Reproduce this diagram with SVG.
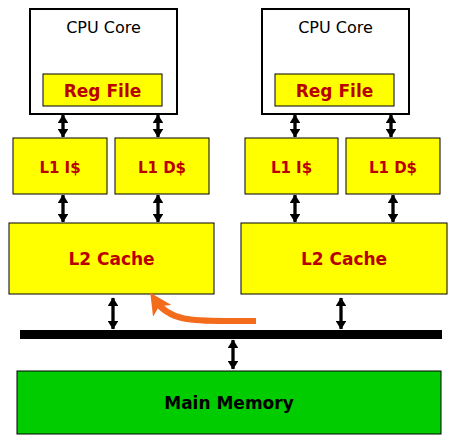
<svg xmlns="http://www.w3.org/2000/svg" width="459" height="444" viewBox="0 0 459 444">
<style>
.core{fill:#fff;stroke:#000;stroke-width:2}
.ybox{fill:#ffff00;stroke:#000;stroke-width:1}
.mem{fill:#00cc00;stroke:#000;stroke-width:1}
.t{font-family:"DejaVu Sans",Verdana,sans-serif;text-anchor:middle}
.red{fill:#b80000;font-weight:bold}
.lbl{fill:#000;font-size:16px}
.big{font-size:17px}
.arr{stroke:#000;stroke-width:3.3;fill:none;marker-start:url(#ah);marker-end:url(#ah)}
</style>
<defs>
<marker id="ah" viewBox="0 0 8 10" refX="7.5" refY="5" markerWidth="2.7" markerHeight="3.3" orient="auto-start-reverse" markerUnits="strokeWidth">
<path d="M0,0 L8,5 L0,10 z" fill="#000"/>
</marker>
<marker id="oh" viewBox="0 0 10 10" refX="6" refY="5" markerWidth="3.6" markerHeight="3.6" orient="auto" markerUnits="strokeWidth">
<path d="M0,0 L10,5 L0,10 L2.5,5 z" fill="#f26c1c"/>
</marker>
</defs>
<g id="cpu1"><rect class="core" x="30" y="9" width="147" height="105"/><text class="t lbl" x="103.5" y="33">CPU Core</text></g>
<g id="reg1"><rect class="ybox" x="43" y="74" width="119" height="32"/><text class="t red big" x="102.5" y="97">Reg File</text></g>
<g id="l1i1"><rect class="ybox" x="13" y="138" width="94" height="56"/><text class="t red" x="60" y="173" font-size="15">L1 I$</text></g>
<g id="l1d1"><rect class="ybox" x="115" y="138" width="94" height="56"/><text class="t red" x="162" y="173" font-size="15">L1 D$</text></g>
<g id="l21"><rect class="ybox" x="9" y="223" width="205" height="71"/><text class="t red big" x="111.5" y="265">L2 Cache</text></g>
<g id="cpu2"><rect class="core" x="262" y="9" width="147" height="105"/><text class="t lbl" x="335.5" y="33">CPU Core</text></g>
<g id="reg2"><rect class="ybox" x="275" y="74" width="119" height="32"/><text class="t red big" x="334.5" y="97">Reg File</text></g>
<g id="l1i2"><rect class="ybox" x="245" y="138" width="93" height="56"/><text class="t red" x="291.5" y="173" font-size="15">L1 I$</text></g>
<g id="l1d2"><rect class="ybox" x="346" y="138" width="94" height="56"/><text class="t red" x="393" y="173" font-size="15">L1 D$</text></g>
<g id="l22"><rect class="ybox" x="241" y="223" width="206" height="71"/><text class="t red big" x="344" y="265">L2 Cache</text></g>
<g id="bus"><rect x="20" y="330" width="422" height="9" fill="#000"/></g>
<g id="mem"><rect class="mem" x="17" y="371" width="424" height="63"/><text class="t big" x="229" y="409" font-weight="bold" fill="#000">Main Memory</text></g>
<g id="connectors">
<line class="arr" x1="63" y1="115" x2="63" y2="137"/>
<line class="arr" x1="158" y1="115" x2="158" y2="137"/>
<line class="arr" x1="295" y1="115" x2="295" y2="137"/>
<line class="arr" x1="391" y1="115" x2="391" y2="137"/>
<line class="arr" x1="63" y1="195" x2="63" y2="222"/>
<line class="arr" x1="158" y1="195" x2="158" y2="222"/>
<line class="arr" x1="295" y1="195" x2="295" y2="222"/>
<line class="arr" x1="393" y1="195" x2="393" y2="222"/>
<line class="arr" x1="113" y1="298" x2="113" y2="329"/>
<line class="arr" x1="341" y1="298" x2="341" y2="329"/>
<line class="arr" x1="233" y1="340" x2="233" y2="369"/>
<path d="M256,321 C205,320 172,326 155,300" stroke="#f26c1c" stroke-width="6" fill="none" marker-end="url(#oh)"/>
</g>
</svg>
